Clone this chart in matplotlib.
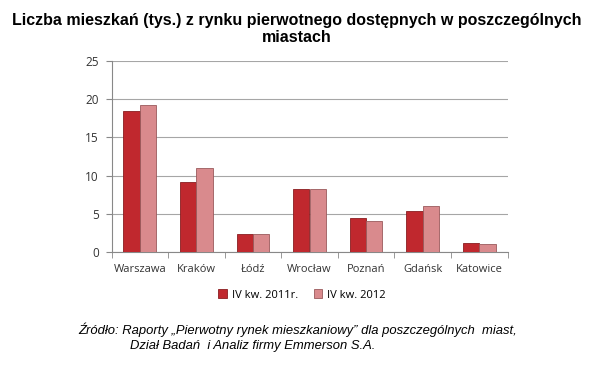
import matplotlib
matplotlib.use("Agg")
import matplotlib.pyplot as plt
import numpy as np

cities = ["Warszawa", "Kraków", "Łódź", "Wrocław", "Poznań", "Gdańsk", "Katowice"]
v2011 = [18.5, 9.2, 2.3, 8.3, 4.5, 5.4, 1.2]
v2012 = [19.2, 11.0, 2.4, 8.2, 4.0, 6.0, 1.1]
series_labels = ["IV kw. 2011r.", "IV kw. 2012"]
yticks = [0, 5, 10, 15, 20, 25]

fig = plt.figure(figsize=(5.94, 3.73), dpi=100)
ax = fig.add_axes([111.5/594, 1-252/373, (507.5-111.5)/594, (252-61)/373])

x = np.arange(len(cities))
w = 0.29
c1 = "#c0282e"
c2 = "#d98a8d"
ax.bar(x - w/2, v2011, w, color=c1, edgecolor="#8a1d20", linewidth=0.6, label=series_labels[0], zorder=3)
ax.bar(x + w/2, v2012, w, color=c2, edgecolor="#9a5a5c", linewidth=0.6, label=series_labels[1], zorder=3)

ax.set_xlim(-0.5, len(cities) - 0.5)
ax.set_ylim(0, 25)
ax.set_yticks(yticks)
ax.set_yticklabels([str(t) for t in yticks], fontsize=8.5, family="Open Sans", color="#333333")
ax.set_xticks(x)
ax.set_xticklabels(cities, fontsize=8, family="Open Sans", color="#333333")
ax.set_xticks(np.arange(-0.5, len(cities), 1), minor=True)
ax.tick_params(axis="x", which="major", length=0, pad=9)
ax.tick_params(axis="x", which="minor", length=4, color="#888888")
ax.tick_params(axis="y", length=4, color="#888888", pad=5)
ax.grid(axis="y", color="#a6a6a6", linewidth=0.8, zorder=0)
for s in ["top", "right"]:
    ax.spines[s].set_visible(False)
ax.spines["left"].set_color("#888888")
ax.spines["bottom"].set_color("#888888")

fig.text(0.5, 1-29/373, "Liczba mieszkań (tys.) z rynku pierwotnego dostępnych w poszczególnych\nmiastach",
         ha="center", va="center", fontsize=11.5, fontweight="bold", family="Liberation Sans", linespacing=1.2)

leg = fig.legend(loc="center", bbox_to_anchor=(302/594, 1-295/373), ncol=2, frameon=False,
                 prop={"family": "Open Sans", "size": 8}, handlelength=0.8, handleheight=0.8,
                 handletextpad=0.4, columnspacing=1.4)

fig.text(78/594, 1-330/373, "Źródło: Raporty „Pierwotny rynek mieszkaniowy” dla poszczególnych  miast,",
         ha="left", va="center", fontsize=9.4, style="italic", family="Liberation Sans")
fig.text(130/594, 1-346/373, "Dział Badań  i Analiz firmy Emmerson S.A.",
         ha="left", va="center", fontsize=9.4, style="italic", family="Liberation Sans")

fig.savefig("out.png", dpi=100)
